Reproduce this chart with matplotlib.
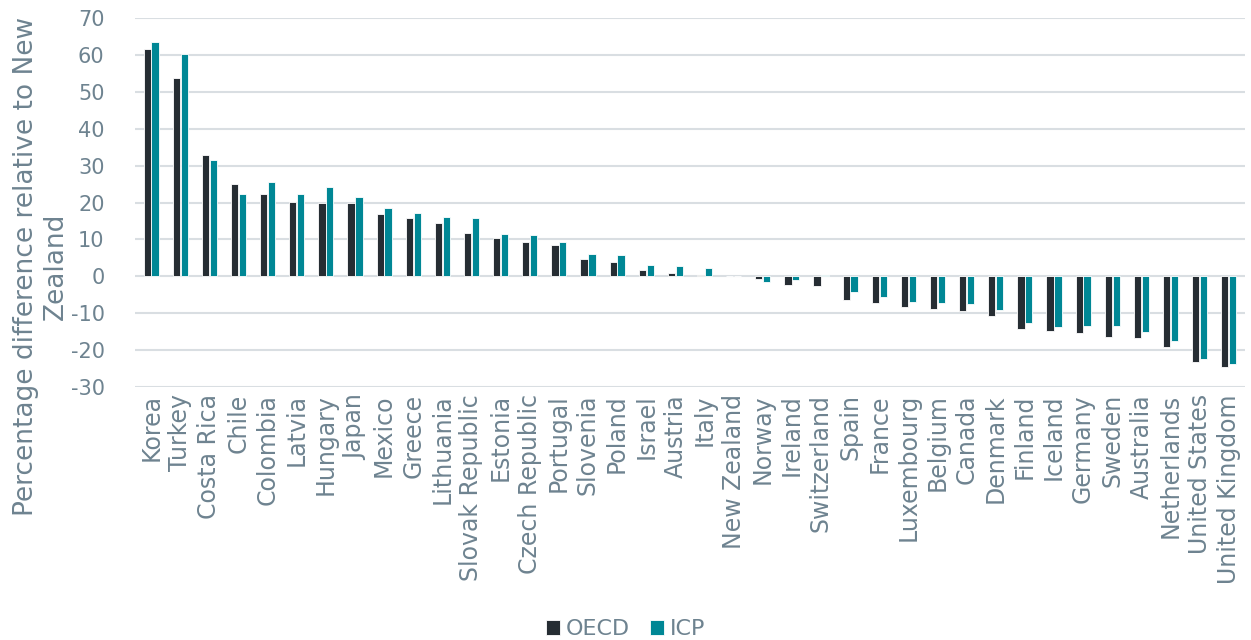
import matplotlib
matplotlib.use("Agg")
import matplotlib.pyplot as plt
import numpy as np

countries = ["Korea", "Turkey", "Costa Rica", "Chile", "Colombia", "Latvia", "Hungary", "Japan",
             "Mexico", "Greece", "Lithuania", "Slovak Republic", "Estonia", "Czech Republic",
             "Portugal", "Slovenia", "Poland", "Israel", "Austria", "Italy", "New Zealand",
             "Norway", "Ireland", "Switzerland", "Spain", "France", "Luxembourg", "Belgium",
             "Canada", "Denmark", "Finland", "Iceland", "Germany", "Sweden", "Australia",
             "Netherlands", "United States", "United Kingdom"]
oecd = [61.7, 53.7, 32.8, 25.1, 22.4, 20.2, 20.0, 20.0, 16.8, 15.7, 14.6, 11.7, 10.3, 9.2,
        8.4, 4.8, 4.0, 1.8, 0.9, 0.4, 0.0, -0.7, -2.4, -2.5, -6.4, -7.2, -8.4, -8.8, -9.3,
        -10.8, -14.2, -14.8, -15.2, -16.3, -16.6, -19.2, -23.2, -24.4]
icp = [63.5, 60.2, 31.4, 22.2, 25.6, 22.4, 24.2, 21.5, 18.5, 17.3, 16.2, 15.9, 11.5, 11.3,
       9.3, 6.2, 5.9, 3.2, 2.7, 2.4, 0.0, -1.5, -0.9, 0.5, -4.1, -5.6, -6.8, -7.3, -7.5,
       -9.1, -12.7, -13.6, -13.4, -13.5, -15.0, -17.6, -22.3, -23.6]
yticks = list(range(-30, 80, 10))
ylabel = "Percentage difference relative to New\nZealand"

txt = "#6e8390"
plt.rcParams['font.family'] = ['DejaVu Sans']

fig = plt.figure(figsize=(12.51, 6.40), dpi=100)
ax = fig.add_axes([0.108, 0.395, 0.887, 0.577])

x = np.arange(len(countries))
w = 0.25
ax.bar(x - w / 2 - 0.01, oecd, w, color="#262d33", edgecolor="white", linewidth=0.6, label="OECD", zorder=3)
ax.bar(x + w / 2 + 0.01, icp, w, color="#008795", edgecolor="white", linewidth=0.6, label="ICP", zorder=3)

ax.set_ylim(-30, 70)
ax.set_xlim(-0.55, len(countries) - 0.45)
ax.set_yticks(yticks)
ax.set_yticklabels([str(v) for v in yticks], fontsize=15, color=txt)
ax.set_xticks(x)
ax.set_xticklabels(countries, rotation=90, fontsize=17, color=txt)
ax.tick_params(length=0, pad=5)
ax.tick_params(axis='y', pad=22)
ax.grid(axis='y', color="#d9dee2", linewidth=1.5, zorder=0)
for s in ax.spines.values():
    s.set_visible(False)
ax.set_ylabel(ylabel, fontsize=19, color=txt, linespacing=1.2)
ax.yaxis.set_label_coords(-0.0595, 0.327)

fig.legend(loc="lower center", ncol=2, bbox_to_anchor=(0.5, -0.03), frameon=False,
           fontsize=16, labelcolor=txt, handlelength=0.65, handleheight=0.65,
           handletextpad=0.25, columnspacing=0.9)

fig.savefig("out.png", dpi=100)
